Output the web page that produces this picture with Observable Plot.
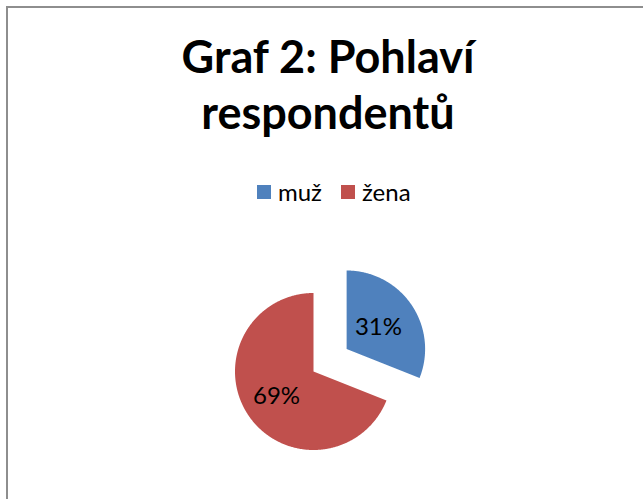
<!DOCTYPE html>
<html><head><meta charset="utf-8">
<script src="https://cdn.jsdelivr.net/npm/d3@7"></script>
<script src="https://cdn.jsdelivr.net/npm/@observablehq/plot@0.6"></script>
<style>
html,body{margin:0;padding:0;background:#fff;}
#chart{position:relative;width:643px;height:499px;overflow:hidden;font-family:Lato,"Open Sans",sans-serif;color:#000;}
#frame{position:absolute;left:6px;top:6px;width:700px;height:600px;border-left:2px solid #8e8e8e;border-top:2px solid #8e8e8e;}
#title{position:absolute;left:0;width:656px;top:28px;text-align:center;font-weight:bold;font-size:45px;line-height:56px;}
#legend{position:absolute;left:257px;top:178px;display:flex;align-items:center;font-size:24px;line-height:28px;}
.sw{display:inline-block;width:14px;height:14px;margin-right:7px;}
.item{display:flex;align-items:center;margin-right:19px;}
#plot{position:absolute;left:0;top:210px;}
</style></head>
<body><div id="chart"><div id="frame"></div><div id="title"></div><div id="legend"></div><div id="plot"></div></div>
<script>
const titleLines = ["Graf 2: Pohlaví", "respondentů"];
const categories = ["muž", "žena"];
const values = [31, 69];
const labels = ["31%", "69%"];
const colors = ["#4F81BD", "#C0504D"];

// title
document.getElementById("title").innerHTML = titleLines.map(t => `<div>${t}</div>`).join("");
// legend
document.getElementById("legend").innerHTML = categories.map((c, i) =>
  `<div class="item"><span class="sw" style="background:${colors[i]}"></span><span>${c}</span></div>`).join("");

// pie geometry
const W = 643, H = 289, R = 78.5, cx = 313, cy = 161;
const explode = [0.51, 0];
const labelR = [0.49, 0.57];
const arcs = d3.pie().sort(null).value(d => d)(values);
const pts = [];
const lab = [];
arcs.forEach((a, i) => {
  const cat = categories[i];
  const mid = (a.startAngle + a.endAngle) / 2;
  const ox = explode[i] * Math.sin(mid), oy = explode[i] * Math.cos(mid);
  const n = Math.max(2, Math.ceil((a.endAngle - a.startAngle) / (Math.PI / 360)));
  pts.push({cat, x: ox, y: oy});
  for (let k = 0; k <= n; k++) {
    const t = a.startAngle + (a.endAngle - a.startAngle) * k / n;
    pts.push({cat, x: ox + Math.sin(t), y: oy + Math.cos(t)});
  }
  pts.push({cat, x: ox, y: oy});
  lab.push({text: labels[i], x: ox + labelR[i] * Math.sin(mid), y: oy + labelR[i] * Math.cos(mid)});
});

const chart = Plot.plot({
  width: W, height: H,
  margin: 0,
  x: {domain: [-cx / R, (W - cx) / R], axis: null},
  y: {domain: [-(H - cy) / R, cy / R], axis: null},
  color: {domain: categories, range: colors},
  style: {fontFamily: "Lato, 'Open Sans', sans-serif", fontSize: "24px", background: "transparent", overflow: "visible"},
  marks: [
    Plot.line(pts, {x: "x", y: "y", z: "cat", fill: "cat", stroke: "none", curve: "linear"}),
    Plot.text(lab, {x: "x", y: "y", text: "text", fontSize: 24, fill: "#000"})
  ]
});
document.getElementById("plot").appendChild(chart);
</script>
</body></html>
